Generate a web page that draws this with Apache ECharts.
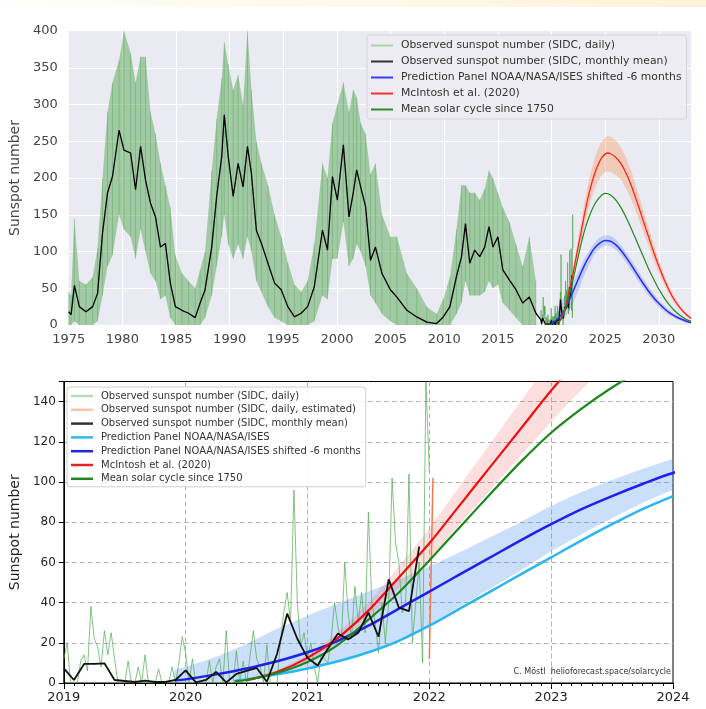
<!DOCTYPE html>
<html><head><meta charset="utf-8">
<script src="https://cdn.jsdelivr.net/npm/echarts@6/dist/echarts.min.js"></script>
<style>
html,body{margin:0;padding:0;background:#fff;}
#chart{position:absolute;left:0;top:0;width:706px;height:709px;}
#topbar{position:absolute;left:0;top:0;width:706px;height:7px;background:linear-gradient(to right,#fffefa,#fdf3d6);}
</style></head><body>
<div id="chart"></div><div id="topbar"></div>
<script>
// ---------- Top panel: observed record 1975-2018 ----------
const meanYears = [1975.0,1975.22,1975.53,1975.99,1976.61,1977.23,1977.69,1978.15,1978.62,1979.08,1979.69,1980.15,1980.77,1981.23,1981.70,1982.16,1982.62,1983.09,1983.55,1984.01,1984.47,1984.94,1985.56,1986.17,1986.79,1987.25,1987.71,1988.33,1988.79,1989.26,1989.50,1989.87,1990.33,1990.79,1991.25,1991.66,1992.03,1992.49,1992.96,1993.57,1994.19,1994.81,1995.42,1996.04,1996.66,1997.27,1997.89,1998.65,1999.12,1999.58,2000.04,2000.60,2001.12,2001.52,2001.84,2002.21,2002.67,2003.13,2003.59,2004.20,2004.98,2005.59,2006.52,2007.44,2008.37,2009.29,2009.91,2010.53,2011.14,2011.61,2011.98,2012.38,2012.84,2013.31,2013.77,2014.17,2014.54,2015.00,2015.46,2016.08,2016.69,2017.31,2017.93,2018.54];
const meanValues = [18,14,54,25,18,25,43,125,180,202,265,238,234,184,243,197,166,147,106,111,57,25,20,16,10,30,48,106,175,229,286,229,175,220,188,243,206,129,111,84,57,48,25,11,16,25,52,129,102,202,170,245,147,180,211,188,161,88,106,70,48,38,20,11,4,2,11,25,66,93,138,84,102,93,106,134,106,120,75,61,48,30,38,16];
const dailyHigh = [45,40,145,60,55,65,105,200,290,330,360,400,370,330,365,365,290,260,220,190,160,95,70,60,50,75,100,210,280,335,385,355,320,340,300,400,320,250,220,190,150,120,85,55,45,60,110,220,200,275,300,330,290,320,310,275,260,205,220,150,120,120,70,50,25,15,35,65,130,190,190,180,180,170,185,210,200,180,160,140,110,80,120,60];
const dailyLow = [0,0,5,0,0,0,5,40,80,95,150,130,120,90,130,100,70,60,35,40,10,0,0,0,0,0,10,40,80,120,150,110,90,110,90,120,100,60,45,25,10,5,0,0,0,0,5,40,35,90,90,140,80,90,110,100,80,40,30,15,5,0,0,0,0,0,0,0,15,30,60,40,40,40,45,60,50,55,30,20,10,0,0,0];

// ---------- 2019-2021 observations ----------
const monthlyStart = 2019;
const monthlyValues = [7.3,1.5,9.5,9.5,9.8,1.5,1.0,0.5,1.2,0.5,0.5,1.5,
                       6.3,0.3,1.5,5.5,0.3,4.5,6.0,7.5,0.6,14.4,34.5,22.0,
                       12.5,8.7,17.0,24.6,21.7,25.0,35.0,23.0,51.6,37.5,35.8,67.9];
const dailyStart = 2019, dailyPerYear = 36;
const dailyValues = [12,20,0, 0,0,11, 14,6,38, 22,18,8, 26,14,25, 12,0,0, 0,11,0, 0,8,0, 14,0,0, 0,7,0, 0,0,8, 0,10,23,
                     15,0,12, 0,0,0, 0,11,0, 8,12,0, 26,0,0, 16,0,11, 0,13,26, 12,8,0, 19,0,0, 0,20,35, 45,30,96, 40,18,25,
                     12,20,8, 0,14,12, 10,22,40, 28,20,60, 35,22,48, 30,45,25, 85,40,30, 15,40,20, 40,102,70, 60,35,40, 104,20,40, 60,10,150,
                     105];
const estimatedYears = [2022.0, 2022.03];
const estimatedValues = [12, 102];

// ---------- Predictions ----------
const noaaYears = [2020.41,2020.5,2020.75,2021.0,2021.25,2021.5,2021.75,2022.0,2022.25,2022.5,2022.75,2023.0,2023.25,2023.5,2023.75,2024.0];
const noaaValues = [1.2,1.8,4.3,7.2,10.8,15.3,21,28.5,37,45.5,54,62.5,71,79,86.5,93];

const shiftedYears = [2019.91,2020.0,2020.25,2020.5,2020.75,2021.0,2021.25,2021.5,2021.75,2022.0,2022.25,2022.5,2022.75,2023.0,2023.25,2023.5,2023.75,2024.0,2024.5,2025.0,2025.5,2026.0,2026.5,2027.0,2027.5,2028.0,2028.5,2029.0,2029.5,2030.0,2030.5,2031.0,2031.5,2032.0,2032.5,2033.0];
const shiftedValues = [1.2,1.8,4.3,7.2,10.8,15.3,21.0,28.5,37.0,45.5,54.0,62.5,71.0,79.0,86.5,93.0,99.0,104.5,111.5,114.8,114.0,109,101,91,80,68.5,57.5,47,37.5,29.5,22.5,16.5,12,8.5,5.5,3.5];
const shiftedUpper = [6.5,8,13,19.5,27,33.5,39.5,45.5,51.5,58,65,72.5,80,88,95,101,106.5,111.5,119,122,121.5,116,108,98,87,75.5,64,53,43,34,26.5,20,15,11,7.5,5];
const shiftedLower = [0.3,0.3,0.5,1.5,4,7,11,15.5,21.5,29,38,47,56,65.5,74,82,89.5,96,104,108,107,102,94,84,73,61.5,51,41,32,25,18.5,13,9,6,3.5,2];

const mcintoshYears = [2020.5,2020.75,2021.0,2021.25,2021.5,2021.75,2022.0,2022.25,2022.5,2022.75,2023.0,2023.25,2023.5,2023.75,2024.0,2024.25,2024.5,2024.75,2025.0,2025.25,2025.5,2026.0,2026.5,2027.0,2027.5,2028.0,2028.5,2029.0,2029.5,2030.0,2030.5,2031.0,2031.5,2032.0,2032.5,2033.0];
const mcintoshValues = [1.3,5.5,12.5,22.5,36,52.5,69.5,88.5,107.5,126.5,145.5,163,179,193,205,215,223,229,232.5,234,233,228,219,205,187,166,144,122,100,80,62,46,33,23,15,9];
const mcintoshUpper = [2,6.5,14,25,40,58,77,98,119,140,161,180,197,212,225,236,245,251,255,257,256,251,241,226,206,183,159,135,111,89,69,51,37,26,17,10];
const mcintoshLower = [0.8,4.5,11,20,32.5,47,62,79,96,113,130,146,160,173,184,193,200,205,208,209,208,204,197,184,168,149,129,109,89,71,55,41,29,20,13,8];

const meanCycleYears = [2020.4,2020.5,2020.75,2021.0,2021.25,2021.5,2021.75,2022.0,2022.25,2022.5,2022.75,2023.0,2023.25,2023.5,2023.75,2024.0,2024.25,2024.5,2024.75,2025.0,2025.5,2026.0,2026.5,2027.0,2027.5,2028.0,2028.5,2029.0,2029.5,2030.0,2030.5,2031.0,2031.5,2032.0,2032.5,2033.0];
const meanCycleValues = [0.8,1.5,5,10.5,19,31.5,45,61,77.5,94,110,124.5,136.5,147,156,163.5,169.5,174,177.5,179,177,170,159,145,129,112,95,78,63,49,37,27,19,13,8,5];

// ---------- Labels ----------
const N_DAILY = 'Observed sunspot number (SIDC, daily)';
const N_EST = 'Observed sunspot number (SIDC, daily, estimated)';
const N_MONTH = 'Observed sunspot number (SIDC, monthly mean)';
const N_NOAA = 'Prediction Panel NOAA/NASA/ISES';
const N_SHIFT = 'Prediction Panel NOAA/NASA/ISES shifted -6 months';
const N_MC = 'McIntosh et al. (2020)';
const N_MEAN = 'Mean solar cycle since 1750';
const FONT = 'DejaVu Sans';

const pairs = (xs, ys) => xs.map((x, i) => [x, ys[i]]);
const monthlyPairs = monthlyValues.map((v, i) => [monthlyStart + i / 12, v]);
const dailyPairs = dailyValues.map((v, i) => [dailyStart + i / dailyPerYear, v]);

function band(g, xs, lo, hi, color, smooth) {
  return {
    type: 'custom', xAxisIndex: g, yAxisIndex: g, clip: true, silent: true, z: 2,
    data: [[xs[0], lo[0]]],
    renderItem: function (params, api) {
      const pts = [];
      for (let i = 0; i < xs.length; i++) pts.push(api.coord([xs[i], hi[i]]));
      for (let i = xs.length - 1; i >= 0; i--) pts.push(api.coord([xs[i], lo[i]]));
      return { type: 'polygon', shape: { points: pts, smooth: smooth }, style: { fill: color } };
    }
  };
}
function line(g, name, data, color, width, smooth, z) {
  return { type: 'line', name: name, xAxisIndex: g, yAxisIndex: g, data: data, showSymbol: false, symbol: 'none',
    smooth: smooth, clip: true, silent: true, z: z || 3,
    lineStyle: { color: color, width: width }, itemStyle: { color: color } };
}

const chart = echarts.init(document.getElementById('chart'));
const option = {
  animation: false,
  textStyle: { fontFamily: FONT },
  grid: [
    { left: 63, top: 31, width: 628, height: 294, show: true, backgroundColor: '#eaeaf2', borderWidth: 0 },
    { left: 63, top: 381.5, width: 610, height: 301.5, show: true, backgroundColor: '#fff', borderColor: '#000', borderWidth: 1 }
  ],
  xAxis: [
    { gridIndex: 0, type: 'value', min: 1975, max: 2033, interval: 5,
      axisLine: { show: false }, axisTick: { show: false },
      splitLine: { show: true, showMinLine: false, showMaxLine: false, lineStyle: { color: '#fff', width: 1.2 } },
      axisLabel: { fontSize: 13, color: '#444', margin: 8, fontFamily: FONT, showMaxLabel: false,
        formatter: v => (v % 5 === 0 ? String(v) : '') } },
    { gridIndex: 1, type: 'value', min: 2019, max: 2024, interval: 1,
      axisLine: { show: true, onZero: false, lineStyle: { color: '#000', width: 1 } },
      axisTick: { show: true, length: 6, lineStyle: { color: '#000' } },
      minorTick: { show: true, splitNumber: 12, length: 3, lineStyle: { color: '#000' } },
      splitLine: { show: true, showMinLine: false, showMaxLine: false, lineStyle: { color: '#b4b4b4', type: [5, 3] } },
      axisLabel: { fontSize: 13, color: '#222', margin: 8, fontFamily: FONT, formatter: v => String(v) } }
  ],
  yAxis: [
    { gridIndex: 0, type: 'value', min: 0, max: 400, interval: 50,
      name: 'Sunspot number', nameLocation: 'middle', nameGap: 40,
      nameTextStyle: { fontSize: 14, color: '#444', fontFamily: FONT },
      axisLine: { show: false }, axisTick: { show: false },
      splitLine: { show: true, showMinLine: false, showMaxLine: false, lineStyle: { color: '#fff', width: 1.2 } },
      axisLabel: { fontSize: 13, color: '#444', margin: 11, fontFamily: FONT } },
    { gridIndex: 1, type: 'value', min: 0, max: 150, interval: 20,
      name: 'Sunspot number', nameLocation: 'middle', nameGap: 40,
      nameTextStyle: { fontSize: 14, color: '#222', fontFamily: FONT },
      axisLine: { show: true, onZero: false, lineStyle: { color: '#000', width: 1 } },
      axisTick: { show: true, length: 5, lineStyle: { color: '#000' } },
      splitLine: { show: true, showMinLine: false, showMaxLine: false, lineStyle: { color: '#b4b4b4', type: [5, 3] } },
      axisLabel: { fontSize: 12, color: '#222', margin: 8, fontFamily: FONT,
        formatter: v => (v % 20 === 0 ? String(v) : '') } }
  ],
  legend: [
    { left: 367, top: 35, orient: 'vertical', selectedMode: false, icon: 'rect',
      itemWidth: 22, itemHeight: 2, itemGap: 3,
      backgroundColor: 'rgba(236,236,242,0.9)', borderColor: '#d4d4d8', borderWidth: 1, borderRadius: 3,
      padding: [4, 5, 3, 4],
      textStyle: { fontFamily: FONT, fontSize: 10.8, color: '#333', lineHeight: 13, padding: [0, 0, 0, 3] },
      data: [
        { name: N_DAILY, itemStyle: { color: '#a8d6a8' } },
        { name: N_MONTH, itemStyle: { color: '#333' } },
        { name: N_SHIFT, itemStyle: { color: '#3a3aff' } },
        { name: N_MC, itemStyle: { color: '#ff3030' } },
        { name: N_MEAN, itemStyle: { color: '#2e8b2e' } }
      ] },
    { left: 67, top: 387, orient: 'vertical', selectedMode: false, icon: 'rect',
      itemWidth: 22, itemHeight: 2.5, itemGap: 1.8,
      backgroundColor: 'rgba(255,255,255,0.9)', borderColor: '#d0d0d0', borderWidth: 1, borderRadius: 3,
      padding: [3, 5, 2, 4],
      textStyle: { fontFamily: FONT, fontSize: 10, color: '#333', lineHeight: 12, padding: [0, 0, 0, 3] },
      data: [
        { name: N_DAILY, itemStyle: { color: '#b4dcb4' } },
        { name: N_EST, itemStyle: { color: '#fbc3b0' } },
        { name: N_MONTH, itemStyle: { color: '#333' } },
        { name: N_NOAA, itemStyle: { color: '#30b8f5' } },
        { name: N_SHIFT, itemStyle: { color: '#2222ee' } },
        { name: N_MC, itemStyle: { color: '#ee2020' } },
        { name: N_MEAN, itemStyle: { color: '#1f861f' } }
      ] }
  ],
  graphic: [
    { type: 'text', right: 35, top: 668, z: 100,
      style: { text: 'C. Möstl  helioforecast.space/solarcycle', fontSize: 8, fill: '#333', fontFamily: FONT } }
  ],
  series: [
    // ---- top panel ----
    band(0, meanYears, dailyLow, dailyHigh, 'rgba(80,165,80,0.48)', 0),
    { type: 'custom', xAxisIndex: 0, yAxisIndex: 0, clip: true, silent: true, z: 2,
      data: meanYears.map((y, i) => [y, dailyLow[i], dailyHigh[i]]),
      encode: { x: 0, y: [1, 2] },
      renderItem: function (params, api) {
        const a = api.coord([api.value(0), api.value(1)]);
        const b = api.coord([api.value(0), api.value(2)]);
        return { type: 'line', shape: { x1: a[0], y1: a[1], x2: b[0], y2: b[1] },
          style: { stroke: 'rgba(60,150,60,0.3)', lineWidth: 1 } };
      } },
    line(0, N_DAILY, dailyPairs, 'rgba(70,160,70,0.6)', 1, false, 2),
    line(0, N_MONTH, pairs(meanYears, meanValues).concat(monthlyPairs), '#000', 1.3, false, 3),
    band(0, shiftedYears, shiftedLower, shiftedUpper, 'rgba(80,130,255,0.28)', 0.2),
    band(0, mcintoshYears, mcintoshLower, mcintoshUpper, 'rgba(255,140,70,0.33)', 0.2),
    line(0, N_SHIFT, pairs(shiftedYears, shiftedValues), '#2a2aff', 1.5, 0.3, 4),
    line(0, N_MC, pairs(mcintoshYears, mcintoshValues), '#ff2020', 1.3, 0.3, 4),
    line(0, N_MEAN, pairs(meanCycleYears, meanCycleValues), '#1e8a1e', 1.2, 0.3, 4),
    // ---- bottom panel ----
    line(1, N_DAILY, dailyPairs, 'rgba(80,170,80,0.7)', 1, false, 2),
    line(1, N_EST, pairs(estimatedYears, estimatedValues), '#f07a50', 1.5, false, 2),
    band(1, shiftedYears, shiftedLower, shiftedUpper, 'rgba(80,150,240,0.3)', 0.2),
    band(1, mcintoshYears, mcintoshLower, mcintoshUpper, 'rgba(240,90,90,0.2)', 0.2),
    line(1, N_NOAA, pairs(noaaYears, noaaValues), '#2ab6f2', 2.5, 0.3, 4),
    line(1, N_SHIFT, pairs(shiftedYears, shiftedValues), '#1f1fee', 2.5, 0.3, 4),
    line(1, N_MC, pairs(mcintoshYears, mcintoshValues), '#ee1010', 2.2, 0.3, 4),
    line(1, N_MEAN, pairs(meanCycleYears, meanCycleValues), '#1a881a', 2.2, 0.3, 4),
    line(1, N_MONTH, monthlyPairs, '#111', 1.8, false, 5)
  ]
};
chart.setOption(option);
</script></body></html>
